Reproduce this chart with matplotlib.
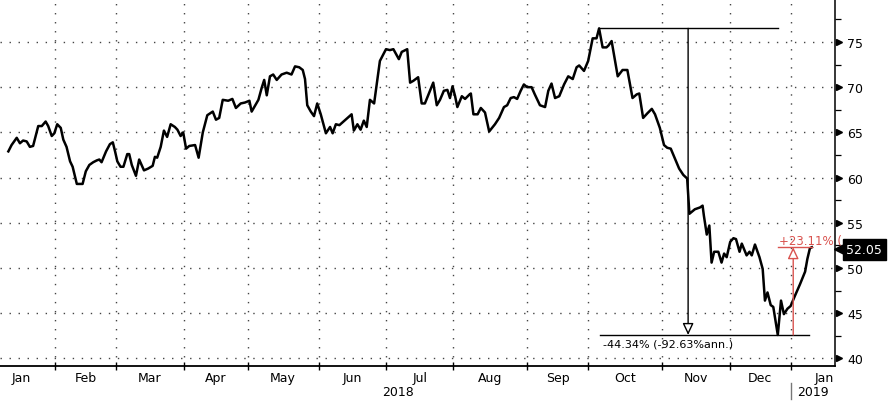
import numpy as np
import matplotlib
matplotlib.use("Agg")
import matplotlib.pyplot as plt
import matplotlib.transforms as mtransforms

# trading-day index (0 = first trading day of Jan 2018) and price
day_idx = [
    6.5, 7.5, 9.1, 10.1, 11.1, 12.2, 13.2, 14.2, 15.8, 16.9, 18.1, 18.9, 20.0, 20.8,
    21.7, 22.8, 23.6, 24.6, 25.7, 26.5, 27.8, 29.6, 30.6, 31.7, 32.9, 34.0, 34.8, 35.5,
    36.9, 38.1, 39.0, 39.7, 40.4, 41.4, 42.3, 43.5, 44.1, 44.9, 46.2, 47.2, 48.7, 50.0,
    51.4, 52.1, 52.8, 53.9, 54.9, 55.9, 57.0, 58.3, 59.1, 60.1, 60.9, 61.8, 62.8, 64.6,
    65.7, 67.0, 68.4, 70.1, 71.1, 72.1, 73.2, 74.9, 76.2, 77.3, 78.8, 80.1, 81.5, 82.2,
    84.3, 85.3, 86.1, 86.9, 87.9, 88.9, 90.0, 91.5, 93.1, 94.6, 95.7, 97.0, 98.1, 98.8,
    99.5, 100.6, 101.6, 102.6, 103.7, 105.3, 106.6, 107.4, 108.4, 109.5, 113.3, 114.0,
    115.1, 116.1, 117.1, 118.0, 119.0, 120.3, 122.1, 124.0, 125.2, 126.3, 128.0, 128.9,
    130.6, 131.5, 132.5, 134.0, 135.1, 136.1, 138.7, 139.8, 140.8, 142.0, 143.1, 143.9,
    144.7, 145.5, 146.2, 147.6, 148.6, 150.0, 150.4, 151.2, 152.5, 153.5, 154.8, 156.1,
    157.9, 159.2, 160.7, 161.7, 162.8, 163.8, 164.8, 165.9, 166.9, 167.9, 169.3, 170.3,
    171.9, 173.5, 174.5, 175.5, 176.6, 177.9, 179.4, 180.7, 182.1, 183.3, 184.1, 185.6,
    186.9, 188.3, 189.5, 190.3, 191.4, 192.6, 193.2, 194.2, 196.1, 197.6, 199.1, 200.7,
    202.0, 202.8, 204.0, 205.3, 206.7, 207.7, 209.2, 210.5, 211.5, 212.6, 213.9, 215.2,
    216.5, 217.7, 218.4, 220.1, 221.7, 222.5, 222.9, 223.8, 224.6, 225.3, 226.1, 227.4,
    228.4, 229.2, 230.0, 231.1, 232.1, 232.9, 234.0, 234.7, 235.4, 236.2, 237.1, 237.8,
    238.8, 240.2, 241.2, 241.9, 242.7, 243.7, 244.5, 245.9, 246.9, 247.8, 248.9, 249.9,
    251.2, 252.8, 254.4, 255.1, 255.9, 256.5,
]
price = [
    62.9, 63.6, 64.4, 63.8, 64.1, 64.0, 63.4, 63.5, 65.7, 65.7, 66.2, 65.7, 64.6, 64.9,
    65.9, 65.5, 64.2, 63.4, 61.8, 61.2, 59.3, 59.3, 60.7, 61.4, 61.7, 61.9, 62.0, 61.7,
    62.9, 63.7, 63.9, 62.9, 61.8, 61.2, 61.2, 62.6, 62.6, 61.4, 60.2, 62.0, 60.8, 61.0,
    61.3, 62.3, 62.2, 63.4, 65.2, 64.5, 65.9, 65.6, 65.3, 64.6, 65.0, 63.2, 63.5, 63.6,
    62.2, 65.0, 66.9, 67.3, 66.4, 66.6, 68.6, 68.5, 68.7, 67.7, 68.2, 68.3, 68.5, 67.3,
    68.6, 69.9, 70.8, 69.1, 71.2, 71.4, 70.8, 71.4, 71.6, 71.4, 72.3, 72.2, 71.9, 70.9,
    68.0, 67.3, 66.8, 68.2, 67.0, 64.9, 65.6, 64.9, 65.9, 65.8, 67.0, 65.2,
    65.9, 65.3, 66.3, 65.6, 68.6, 68.2, 72.9, 74.2, 74.1, 74.2, 73.1, 73.9,
    74.2, 70.5, 70.7, 71.1, 68.2, 68.2, 70.5, 68.0, 68.6, 69.6, 69.7, 68.8,
    70.1, 69.0, 67.8, 69.0, 68.7, 69.2, 69.3, 67.0, 67.0, 67.7, 67.2, 65.1,
    65.9, 66.6, 67.8, 68.0, 68.8, 68.9, 68.7, 69.6, 70.3, 70.0, 70.0, 69.2,
    68.0, 67.8, 69.6, 70.4, 68.8, 69.0, 70.3, 71.2, 70.9, 72.2, 72.4, 71.8,
    72.9, 75.4, 75.4, 76.5, 74.4, 74.4, 74.6, 75.1, 71.2, 71.9, 71.9, 68.8,
    69.2, 69.3, 66.6, 67.1, 67.6, 67.0, 65.5, 63.6, 63.3, 63.2, 62.1, 61.0,
    60.3, 59.9, 56.0, 56.5, 56.7, 56.9, 55.8, 53.7, 54.7, 50.6, 51.8, 51.8,
    50.6, 51.6, 51.2, 52.9, 53.3, 53.2, 51.8, 52.7, 52.1, 51.4, 51.8, 51.4,
    52.6, 51.2, 49.9, 46.4, 47.3, 45.9, 45.7, 42.6, 46.4, 44.9, 45.5, 45.8,
    46.9, 48.2, 49.6, 51.0, 52.2, 52.3,
]

month_names = ["Jan", "Feb", "Mar", "Apr", "May", "Jun", "Jul", "Aug", "Sep",
               "Oct", "Nov", "Dec", "Jan"]
month_days = [21, 19, 21, 20, 22, 21, 21, 23, 19, 23, 21, 19, 21]
y_ticks = [40, 45, 50, 55, 60, 65, 70, 75]

last_label = "52.05"
drop_text = "-44.34% (-92.63%ann.)"
rise_text = "+23.11% ("

peak = max(price)
trough = min(price)
last = 52.05

bounds = np.concatenate([[0], np.cumsum(month_days)])
mids = (bounds[:-1] + bounds[1:]) / 2

fig = plt.figure(figsize=(8.9, 4.02), dpi=100)
ax = fig.add_axes([0, 0.0878, 0.9382, 0.9122])

ax.plot(day_idx, price, color="black", lw=1.8, zorder=3)

ax.set_xlim(3.9, 263.7)
ax.set_ylim(39.2, 79.75)

# spines
ax.spines["top"].set_visible(False)
ax.spines["left"].set_visible(False)
ax.spines["right"].set_linewidth(1.1)
ax.spines["bottom"].set_linewidth(1.3)

# x axis: month boundaries as ticks/grid, labels in the middle
ax.set_xticks(bounds[1:-1])
ax.set_xticklabels([])
ax.set_xticks(mids, minor=True)
ax.set_xticklabels(month_names, minor=True, fontsize=9)
ax.tick_params(axis="x", which="major", direction="inout", length=6, width=1)
ax.tick_params(axis="x", which="minor", length=0, pad=4)

# y axis on the right
ax.yaxis.tick_right()
ax.set_yticks(y_ticks)
ax.set_yticklabels([str(v) for v in y_ticks], fontsize=9)
ax.set_yticks(np.arange(42.5, 79, 5), minor=True)
ax.tick_params(axis="y", which="major", length=0, pad=9)
ax.tick_params(axis="y", which="minor", direction="out", length=4, width=0.9)

trans_ay = mtransforms.blended_transform_factory(ax.transAxes, ax.transData)
ax.plot([1.0048] * len(y_ticks), y_ticks, ls="none", marker=">", ms=5,
        color="black", transform=trans_ay, clip_on=False)

ax.grid(True, which="major", color="#444444", linestyle=(0, (1, 5.5)), linewidth=1.0)

# year labels
trans_xa = mtransforms.blended_transform_factory(ax.transData, ax.transAxes)
ax.text(127.7, -0.069, "2018", transform=trans_xa, ha="center", va="center", fontsize=9)
ax.text(252.0, -0.069, "2019", transform=trans_xa, ha="left", va="center", fontsize=9)
ax.plot([250, 250], [-0.047, -0.091], color="#777777", lw=1,
        transform=trans_xa, clip_on=False)

# peak-to-trough annotation
ax.plot([190.3, 245.9], [peak, peak], color="black", lw=1, zorder=4)
ax.plot([190.6, 255.7], [trough, trough], color="black", lw=1, zorder=4)
ax.annotate("", xy=(218.0, trough), xytext=(218.0, peak),
            arrowprops=dict(arrowstyle="-|>,head_length=0.7,head_width=0.33",
                            fc="white", ec="black", lw=1, shrinkA=0, shrinkB=0),
            zorder=4)
ax.text(191.5, 41.7, drop_text, fontsize=8, ha="left", va="center", color="black")

# rebound annotation
red = "#d9534f"
ax.plot([246.1, 256.7], [price[-1], price[-1]], color=red, lw=1, zorder=4)
ax.annotate("", xy=(250.7, price[-1]), xytext=(250.7, trough),
            arrowprops=dict(arrowstyle="-|>,head_length=0.7,head_width=0.33",
                            fc="white", ec=red, lw=1, shrinkA=0, shrinkB=0),
            zorder=4)
ax.text(246.3, 53.0, rise_text, fontsize=8.5, ha="left", va="center", color=red,
        clip_on=False, zorder=5)

# last value box
ax.plot([1.0045], [last], marker="<", ms=7, color="black", ls="none",
        transform=trans_ay, clip_on=False, zorder=10)
ax.text(1.0135, last, last_label, transform=trans_ay, fontsize=9, color="white",
        ha="left", va="center", clip_on=False, zorder=10,
        bbox=dict(boxstyle="square,pad=0.3", fc="black", ec="black"))

fig.savefig("out.png", dpi=100)
